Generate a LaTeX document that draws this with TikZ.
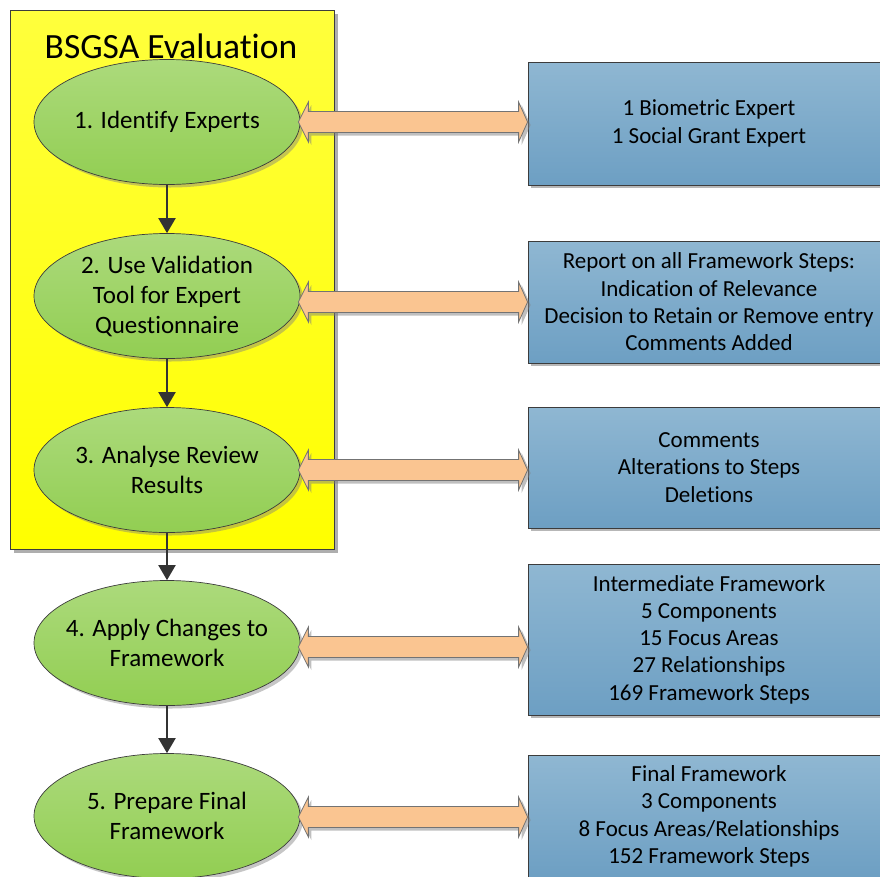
\documentclass[tikz,border=0pt]{standalone}
\usepackage{fontspec}
\setmainfont[Ligatures=NoCommon]{Carlito}
\usetikzlibrary{shapes.geometric,shadows,calc,arrows.meta}

\definecolor{frameTop}{HTML}{FFFF3C}
\definecolor{frameBot}{HTML}{FFFF00}
\definecolor{stageTop}{HTML}{ACDA7C}
\definecolor{stageBot}{HTML}{92CE52}
\definecolor{infoTop}{HTML}{8FB7D2}
\definecolor{infoBot}{HTML}{6D9FC3}
\definecolor{linkFill}{HTML}{FAC591}
\definecolor{edgeGray}{HTML}{3C3C3C}
\definecolor{flowGray}{HTML}{333333}

\tikzset{
  framebox/.style={rectangle, draw=edgeGray, line width=0.8pt,
    top color=frameTop, bottom color=frameBot,
    drop shadow={shadow xshift=4pt, shadow yshift=-4pt, fill=black!45, opacity=0.7},
    minimum width=324pt, minimum height=539pt, inner sep=0pt},
  stage/.style={ellipse, draw=edgeGray, line width=0.7pt,
    top color=stageTop, bottom color=stageBot,
    drop shadow={shadow xshift=3pt, shadow yshift=-3pt, fill=black!50, opacity=0.45},
    minimum width=266pt, minimum height=125pt, inner xsep=-60pt, inner ysep=-30pt,
    align=center, font=\fontsize{25}{30}\selectfont},
  infobox/.style={rectangle, draw=edgeGray, line width=0.8pt,
    top color=infoTop, bottom color=infoBot,
    drop shadow={shadow xshift=3pt, shadow yshift=-3pt, fill=black!40, opacity=0.7},
    minimum width=362pt, inner sep=0pt, align=center,
    font=\fontsize{23}{27.3}\selectfont},
  flow/.style={draw=flowGray, line width=2pt,
    -{Triangle[width=17pt,length=15pt]}},
  linkarrow/.style={draw=black!55, line width=0.8pt, fill=linkFill,
    drop shadow={shadow xshift=3pt, shadow yshift=-3pt, fill=black!50, opacity=0.5}},
}

% two-headed link from a stage ellipse to its information box at height #3
\newcommand\stagelink[3]{%
  \path[linkarrow] let \p1=(#1.east), \p2=(#2.west), \p3=(0,#3) in
    (\x1-2pt,\y3) -- (\x1+8pt,\y3+20pt) -- (\x1+8pt,\y3+10.5pt)
    -- (\x2-9pt,\y3+10.5pt) -- (\x2-9pt,\y3+20pt) -- (\x2,\y3)
    -- (\x2-9pt,\y3-20pt) -- (\x2-9pt,\y3-10.5pt)
    -- (\x1+8pt,\y3-10.5pt) -- (\x1+8pt,\y3-20pt) -- cycle;}

\begin{document}
\begin{tikzpicture}[x=1pt,y=-1pt]
\useasboundingbox (0,0) rectangle (880,876);
\clip (0,0) rectangle (880,876);

% evaluation frame
\node[framebox] (frame) at (172,279.5) {};
\node[font=\fontsize{35.5}{40}\selectfont, inner sep=0pt] (title) at (171,46) {BSGSA Evaluation};

% stages
\node[stage] (s1) at (167,122) {\strut1. Identify Experts};
\node[stage] (s2) at (167,296) {2. Use Validation\\Tool for Expert\\Questionnaire};
\node[stage] (s3) at (167,470) {3. Analyse Review\\Results};
\node[stage] (s4) at (167,643) {4. Apply Changes to\\Framework};
\node[stage] (s5) at (167,816) {5. Prepare Final\\Framework};

% information boxes
\node[infobox, minimum height=123pt] (b1) at (709,123.5)
  {1 Biometric Expert\\1 Social Grant Expert};
\node[infobox, minimum height=122pt] (b2) at (709,302)
  {Report on all Framework Steps:\\Indication of Relevance\\Decision to Retain or Remove entry\\Comments Added};
\node[infobox, minimum height=121pt] (b3) at (709,467.5)
  {Comments\\Alterations to Steps\\Deletions};
\node[infobox, minimum height=151pt] (b4) at (709,639.5)
  {Intermediate Framework\\5 Components\\15 Focus Areas\\27 Relationships\\169 Framework Steps};
\node[infobox, minimum height=123pt] (b5) at (709,816.5)
  {Final Framework\\3 Components\\8 Focus Areas/Relationships\\152 Framework Steps};

% sequence
\draw[flow] (s1.south) -- (s2.north);
\draw[flow] (s2.south) -- (s3.north);
\draw[flow] (s3.south) -- (s4.north);
\draw[flow] (s4.south) -- (s5.north);

% links
\stagelink{s1}{b1}{122}
\stagelink{s2}{b2}{302}
\stagelink{s3}{b3}{470}
\stagelink{s4}{b4}{647}
\stagelink{s5}{b5}{817}
\end{tikzpicture}
\end{document}
